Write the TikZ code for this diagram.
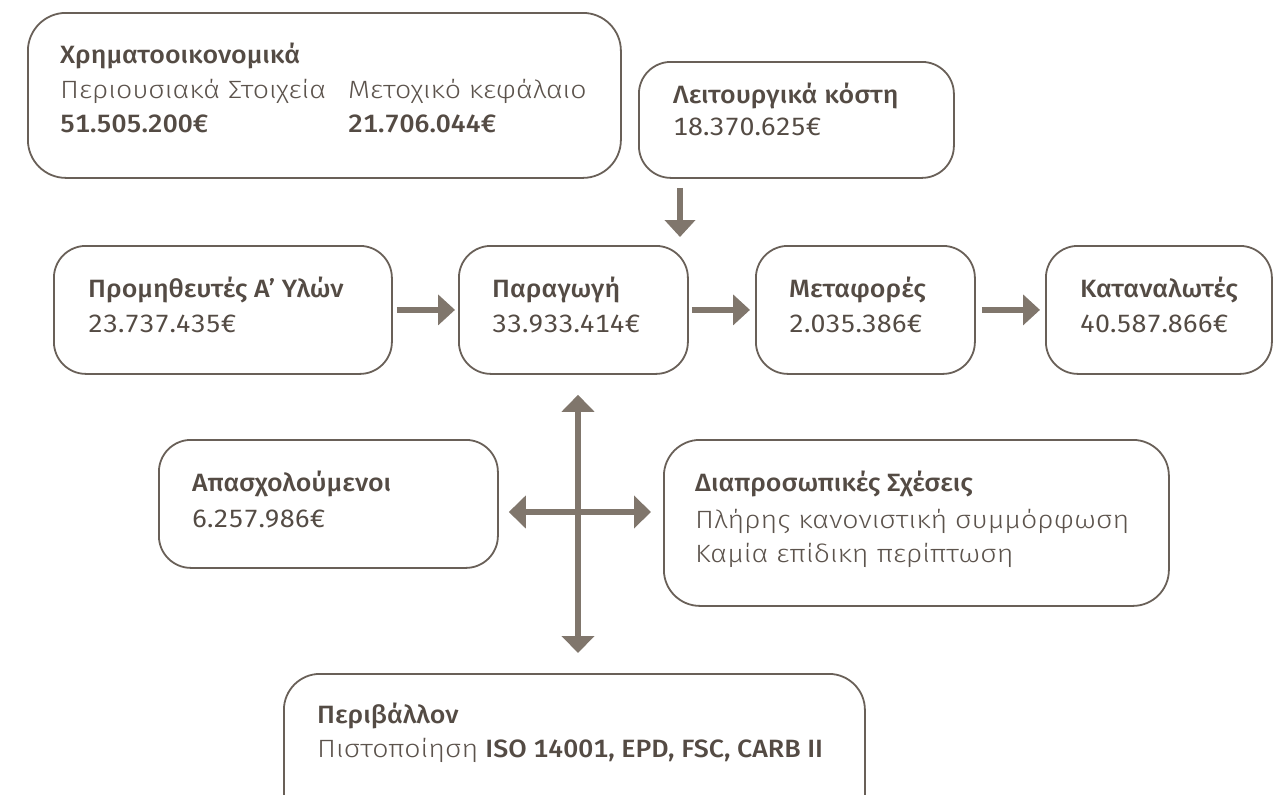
\documentclass[tikz,border=0pt]{standalone}
\usepackage{fontspec}
\usetikzlibrary{arrows.meta}
\IfFontExistsTF{Fira Sans Medium}
  {\setmainfont{Fira Sans}[FakeStretch=1.07, Numbers=Monospaced, BoldFont={Fira Sans Medium}, BoldFeatures={FakeStretch=1.07, Numbers=Monospaced}]}
  {\setmainfont{Fira Sans}[FakeStretch=1.07, Numbers=Monospaced]}
\IfFontExistsTF{Fira Sans Light}
  {\newfontfamily\lightf{Fira Sans Light}[FakeStretch=1.14]}
  {\newfontfamily\lightf{Fira Sans}[FakeStretch=1.14]}
\definecolor{txt}{RGB}{84,75,68}
\definecolor{lt}{RGB}{92,83,76}
\definecolor{edge}{RGB}{105,96,88}
\definecolor{arrc}{RGB}{128,118,108}
\begin{document}
\begin{tikzpicture}[x=1pt,y=-1pt,
  box/.style={draw=edge, line width=1.8pt, rounded corners=32pt, fill=white, inner sep=0pt, anchor=north west, minimum width=#1},
  ttl/.style={anchor=base west, inner sep=0pt, font=\fontsize{25}{30}\selectfont\bfseries, text=txt},
  num/.style={anchor=base west, inner sep=0pt, font=\fontsize{25}{30}\selectfont, text=txt},
  bnum/.style={anchor=base west, inner sep=0pt, font=\fontsize{25}{30}\selectfont\bfseries, text=txt},
  lgt/.style={anchor=base west, inner sep=0pt, font=\fontsize{25}{30}\selectfont\lightf, text=lt},
  arr/.style={draw=arrc, line width=6.5pt, -{Triangle[length=17pt,width=30pt]}},
  darr/.style={draw=arrc, line width=6pt, {Triangle[length=17pt,width=32pt]}-{Triangle[length=17pt,width=32pt]}}]
\useasboundingbox (0,0) rectangle (1285,795);
\clip (0,0) rectangle (1285,795);
% boxes
\node[box=593pt, minimum height=165pt, rounded corners=38pt] (fin) at (27,12) {};
\node[box=315pt, minimum height=116pt] (opc) at (638,61) {};
\node[box=338pt, minimum height=128pt] (sup) at (53,245) {};
\node[box=229pt, minimum height=128pt] (prod) at (458,245) {};
\node[box=219pt, minimum height=128pt] (trans) at (755,245) {};
\node[box=226pt, minimum height=128pt] (cons) at (1045,245) {};
\node[box=339pt, minimum height=128pt] (emp) at (158,439) {};
\node[box=505pt, minimum height=166pt, rounded corners=36pt] (inter) at (663,439) {};
\node[box=581pt, minimum height=160pt, rounded corners=36pt] (env) at (283,673) {};
% texts
\node[ttl] (finT) at (60,63) {Χρηματοοικονομικά};
\node[lgt] (finA) at (60,98) {Περιουσιακά Στοιχεία};
\node[bnum] (finAv) at (60,132) {51.505.200€};
\node[lgt] (finB) at (348,98) {Μετοχικό κεφάλαιο};
\node[bnum] (finBv) at (348,132) {21.706.044€};
\node[ttl] (opcT) at (673,103) {Λειτουργικά κόστη};
\node[num] (opcV) at (673,135) {18.370.625€};
\node[ttl] (supT) at (88,297) {Προμηθευτές Α’ Υλών};
\node[num] (supV) at (88,332) {23.737.435€};
\node[ttl] (prodT) at (492,297) {Παραγωγή};
\node[num] (prodV) at (492,332) {33.933.414€};
\node[ttl] (transT) at (789,297) {Μεταφορές};
\node[num] (transV) at (789,332) {2.035.386€};
\node[ttl] (consT) at (1080,297) {Καταναλωτές};
\node[num] (consV) at (1080,332) {40.587.866€};
\node[ttl] (empT) at (192,491) {Απασχολούμενοι};
\node[num] (empV) at (192,527) {6.257.986€};
\node[ttl] (interT) at (695,491) {Διαπροσωπικές Σχέσεις};
\node[lgt] (interA) at (695,528) {Πλήρης κανονιστική συμμόρφωση};
\node[lgt] (interB) at (695,562) {Καμία επίδικη περίπτωση};
\node[ttl] (envT) at (317,723) {Περιβάλλον};
\node[num] (envV) at (317,757) {{\lightf\color{lt}Πιστοποίηση} \textbf{ISO 14001, EPD, FSC, CARB II}};
% connectors
\draw[arr, shorten <=4pt, shorten >=3pt] (sup) -- (prod);
\draw[arr, shorten <=3pt, shorten >=5pt] (prod) -- (trans);
\draw[arr, shorten <=6pt, shorten >=5pt] (trans) -- (cons);
\coordinate (dd) at (680,186);
\draw[arr, shorten <=9pt, shorten >=8pt] (opc.south -| dd) -- (prod.north -| dd);
\coordinate (cx) at (578,512);
\draw[darr, shorten <=20pt, shorten >=20pt] (prod.south -| cx) -- (env.north -| cx);
\draw[darr, shorten <=10pt, shorten >=12pt] (emp.east |- cx) -- (inter.west |- cx);
\end{tikzpicture}
\end{document}
